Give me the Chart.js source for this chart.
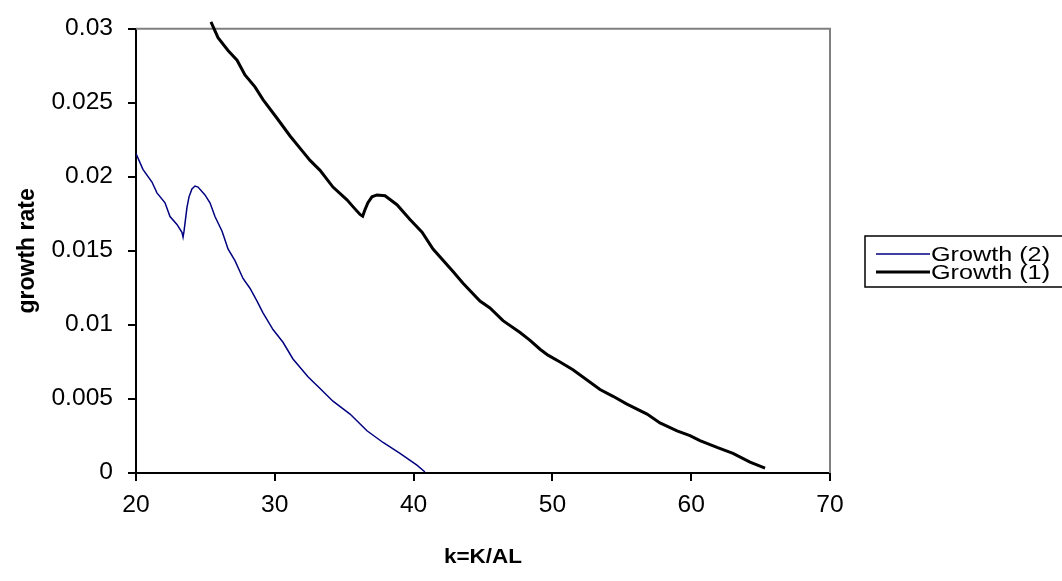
<!DOCTYPE html>
<html><head><meta charset="utf-8">
<script src="https://cdn.jsdelivr.net/npm/chart.js@4/dist/chart.umd.min.js"></script>
<style>html,body{margin:0;padding:0;background:#fff;}#wrap{width:1062px;height:581px;position:relative}</style>
</head><body><div id="wrap"><canvas id="c" width="1062" height="581"></canvas></div>
<script>
// ---- data ----
const seriesLabels = ['Growth (2)', 'Growth (1)'];
const xTitle = 'k=K/AL';
const yTitle = 'growth rate';
const xTickValues = [20, 30, 40, 50, 60, 70];
const yTickValues = [0, 0.005, 0.01, 0.015, 0.02, 0.025, 0.03];

const growth2K = [20.00, 20.50, 21.15, 21.51, 22.09, 22.45, 22.95, 23.31, 23.39, 23.46, 23.67, 23.82, 24.03, 24.25, 24.47, 24.97, 25.33, 25.69, 26.20, 26.63, 27.13, 27.71, 28.21, 28.72, 29.15, 29.87, 30.59, 31.31, 32.39, 33.26, 34.19, 35.42, 36.64, 37.80, 39.02, 40.24, 40.82];
const growth2Rate = [0.02157, 0.02051, 0.01965, 0.01892, 0.01825, 0.01732, 0.01679, 0.01626, 0.01593, 0.01633, 0.01792, 0.01865, 0.01918, 0.01938, 0.01931, 0.01878, 0.01825, 0.01732, 0.01633, 0.01513, 0.01434, 0.01314, 0.01248, 0.01161, 0.01082, 0.00969, 0.00883, 0.00770, 0.00650, 0.00571, 0.00485, 0.00398, 0.00285, 0.00206, 0.00133, 0.00053, 0.00007];

const growth1K = [25.40, 25.91, 26.63, 27.28, 27.85, 28.57, 29.15, 30.16, 31.10, 31.96, 32.54, 33.26, 34.19, 35.20, 35.63, 36.14, 36.33, 36.50, 36.71, 37.00, 37.36, 37.94, 38.80, 39.74, 40.61, 41.40, 42.84, 43.56, 44.78, 45.50, 46.44, 47.67, 48.39, 49.11, 49.68, 50.55, 51.48, 53.43, 54.37, 55.37, 56.82, 57.75, 58.98, 59.91, 60.63, 61.86, 63.01, 64.24, 65.32];
const growth1Rate = [0.03046, 0.02940, 0.02854, 0.02788, 0.02688, 0.02608, 0.02522, 0.02396, 0.02276, 0.02177, 0.02111, 0.02044, 0.01931, 0.01845, 0.01799, 0.01746, 0.01734, 0.01779, 0.01825, 0.01865, 0.01878, 0.01872, 0.01812, 0.01712, 0.01626, 0.01513, 0.01361, 0.01281, 0.01161, 0.01115, 0.01029, 0.00949, 0.00896, 0.00836, 0.00796, 0.00750, 0.00697, 0.00564, 0.00518, 0.00465, 0.00398, 0.00338, 0.00285, 0.00252, 0.00219, 0.00173, 0.00133, 0.00073, 0.00033];

const pairs = (xs, ys) => xs.map((x, i) => ({x: x, y: ys[i]}));
const FONT = "'Liberation Sans', Arial, sans-serif";

// the reference text is a little wider than plain Arial: widen horizontal text slightly
let textStretch = 1.07;
(function () {
  const proto = CanvasRenderingContext2D.prototype;
  const orig = proto.fillText;
  proto.fillText = function (text, x, y, maxWidth) {
    const m = this.getTransform();
    if (m.b !== 0 || m.c !== 0) {
      return maxWidth === undefined ? orig.call(this, text, x, y) : orig.call(this, text, x, y, maxWidth);
    }
    this.save();
    this.translate(x, y);
    this.scale(textStretch, 1);
    if (maxWidth === undefined) orig.call(this, text, 0, 0);
    else orig.call(this, text, 0, 0, maxWidth / textStretch);
    this.restore();
  };
})();

const framePlugin = {
  id: 'frame',
  beforeDatasetsDraw(chart) {
    const {ctx, chartArea: a} = chart;
    ctx.save();
    ctx.strokeStyle = '#808080';
    ctx.lineWidth = 2;
    ctx.beginPath();
    ctx.moveTo(a.left, a.top);
    ctx.lineTo(a.right, a.top);
    ctx.lineTo(a.right, a.bottom);
    ctx.stroke();
    ctx.restore();
  }
};

const legendPlugin = {
  id: 'boxLegend',
  afterDraw(chart) {
    const ctx = chart.ctx;
    const left = 865, top = 236, bottom = 287;
    ctx.save();
    ctx.strokeStyle = '#000';
    ctx.lineWidth = 1.5;
    ctx.strokeRect(left, top, 1062 - left + 5, bottom - top);
    const rows = [254, 272];
    ctx.font = '21px ' + FONT;
    ctx.textBaseline = 'middle';
    ctx.textAlign = 'left';
    const saved = textStretch;
    textStretch = 1.2;
    chart.data.datasets.forEach((ds, i) => {
      const y = rows[i];
      ctx.strokeStyle = ds.borderColor;
      ctx.lineWidth = ds.borderWidth;
      ctx.beginPath();
      ctx.moveTo(876, y);
      ctx.lineTo(930, y);
      ctx.stroke();
      ctx.fillStyle = '#000';
      ctx.fillText(ds.label, 931, y + 1);
    });
    textStretch = saved;
    ctx.restore();
  }
};

new Chart(document.getElementById('c'), {
  type: 'scatter',
  data: {
    datasets: [
      { label: seriesLabels[0], data: pairs(growth2K, growth2Rate), showLine: true, borderColor: '#000080', borderWidth: 1.5, pointRadius: 0, tension: 0 },
      { label: seriesLabels[1], data: pairs(growth1K, growth1Rate), showLine: true, borderColor: '#000000', borderWidth: 3, pointRadius: 0, tension: 0, clip: false }
    ]
  },
  options: {
    responsive: false,
    devicePixelRatio: 1,
    animation: false,
    layout: { padding: { left: 0, top: 21, right: 232, bottom: 0 } },
    plugins: { legend: { display: false }, tooltip: { enabled: false } },
    scales: {
      x: {
        type: 'linear', min: 20, max: 70,
        afterBuildTicks: s => { s.ticks = xTickValues.map(v => ({value: v})); },
        afterFit: s => { s.height = 108; },
        grid: { display: true, drawOnChartArea: false, drawTicks: true, tickLength: 8, color: '#000', lineWidth: 2 },
        border: { display: true, color: '#000', width: 2 },
        ticks: { color: '#000', font: { family: FONT, size: 23 }, padding: 11, maxRotation: 0, callback: v => String(v) },
        title: { display: true, text: xTitle, color: '#000', font: { family: FONT, size: 21, weight: 'bold' }, padding: { top: 0, bottom: 11 } }
      },
      y: {
        type: 'linear', min: 0, max: 0.03,
        afterBuildTicks: s => { s.ticks = yTickValues.map(v => ({value: v})); },
        afterFit: s => { s.width = 136; },
        grid: { display: true, drawOnChartArea: false, drawTicks: true, tickLength: 8, color: '#000', lineWidth: 2 },
        border: { display: true, color: '#000', width: 2 },
        ticks: { color: '#000', font: { family: FONT, size: 23 }, padding: 15, callback: v => String(v) },
        title: { display: true, text: yTitle, color: '#000', font: { family: FONT, size: 23, weight: 'bold' }, padding: { top: 14, bottom: 0 } }
      }
    }
  },
  plugins: [framePlugin, legendPlugin]
});
</script>
</body></html>
